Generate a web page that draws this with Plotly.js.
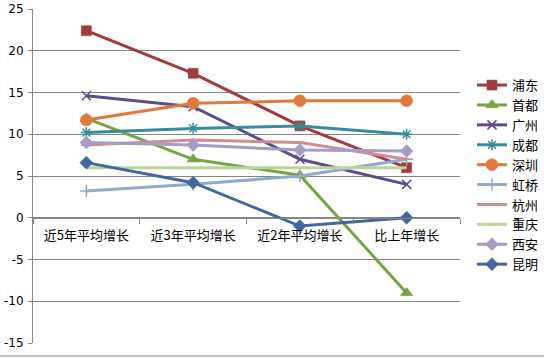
<!DOCTYPE html>
<html>
<head>
<meta charset="utf-8">
<script src="https://cdn.plot.ly/plotly-3.0.1.min.js"></script>
<style>html,body{margin:0;padding:0;background:#fff;}#chart{width:544px;height:359px;}</style>
</head>
<body>
<div id="chart"></div>
<script>
const categories = ["近5年平均增长", "近3年平均增长", "近2年平均增长", "比上年增长"];
const seriesNames = ["浦东", "首都", "广州", "成都", "深圳", "虹桥", "杭州", "重庆", "西安", "昆明"];
const pudong   = [22.4, 17.3, 11.0, 6.0];
const shoudu   = [11.9, 7.0, 5.1, -9.0];
const guangzhou= [14.6, 13.3, 7.0, 4.0];
const chengdu  = [10.2, 10.7, 11.0, 10.0];
const shenzhen = [11.7, 13.7, 14.0, 14.0];
const hongqiao = [3.2, 4.0, 5.0, 7.0];
const hangzhou = [8.7, 9.3, 9.0, 7.0];
const chongqing= [6.0, 6.0, 6.0, 6.0];
const xian     = [9.0, 8.7, 8.1, 8.0];
const kunming  = [6.6, 4.2, -1.0, 0.0];
const yTicks = [-15, -10, -5, 0, 5, 10, 15, 20, 25];

const values = [pudong, shoudu, guangzhou, chengdu, shenzhen, hongqiao, hangzhou, chongqing, xian, kunming];
const colors = ["#A33A3E", "#77A443", "#5E4B8C", "#3A8B9C", "#E0793A", "#8FAAD0", "#CC8E90", "#BBD49C", "#A89CC6", "#42679F"];
const symbols = ["square", "triangle-up", "x-thin", "asterisk", "circle", "cross-thin", "line-ew", "line-ew", "diamond", "diamond"];
const sizes = [10, 11, 9, 9, 12, 9, 8, 0.1, 10, 10];

const traces = seriesNames.map((n, i) => ({
  type: "scatter",
  mode: "lines+markers",
  name: n,
  x: categories,
  y: values[i],
  line: {color: colors[i], width: 3},
  marker: {
    symbol: symbols[i],
    size: sizes[i],
    color: colors[i],
    line: {color: colors[i], width: (symbols[i].indexOf("thin") >= 0 || symbols[i] === "asterisk" || symbols[i] === "line-ew") ? 1.5 : 0.5}
  }
}));

const layout = {
  width: 544, height: 359,
  margin: {l: 33, r: 84, t: 9, b: 16, autoexpand: false},
  paper_bgcolor: "#ffffff",
  plot_bgcolor: "#ffffff",
  font: {family: "'Noto Sans CJK SC', 'DejaVu Sans', sans-serif", size: 12, color: "#000"},
  showlegend: true,
  legend: {
    x: 1.028, y: 0.817, xanchor: "left", yanchor: "top",
    font: {size: 13, color: "#000"},
    itemwidth: 30,
    tracegroupgap: 0,
    bgcolor: "rgba(0,0,0,0)"
  },
  xaxis: {
    type: "category",
    anchor: "free",
    position: 0.375,
    showline: true,
    linecolor: "#868686",
    linewidth: 1,
    ticks: "outside",
    tickson: "boundaries",
    ticklen: 5,
    tickcolor: "#868686",
    showgrid: false,
    zeroline: false,
    automargin: false,
    tickfont: {size: 13, color: "#000"},
    ticklabelstandoff: 6,
    range: [-0.5, 3.5]
  },
  yaxis: {
    range: [-15, 25],
    tickvals: yTicks,
    ticktext: yTicks.map(String),
    showgrid: true,
    gridcolor: "#868686",
    gridwidth: 1,
    zeroline: false,
    showline: true,
    linecolor: "#868686",
    ticks: "outside",
    ticklen: 4,
    tickcolor: "#868686",
    automargin: false,
    tickfont: {size: 12, color: "#000", family: "'DejaVu Sans', sans-serif"},
    ticklabelstandoff: 2
  },
  shapes: [{
    type: "line", xref: "paper", yref: "paper",
    x0: -0.1, x1: 1.2, y0: -0.039, y1: -0.039,
    line: {color: "#868686", width: 1}
  }]
};

Plotly.newPlot("chart", traces, layout, {displayModeBar: false, staticPlot: true});
</script>
</body>
</html>
